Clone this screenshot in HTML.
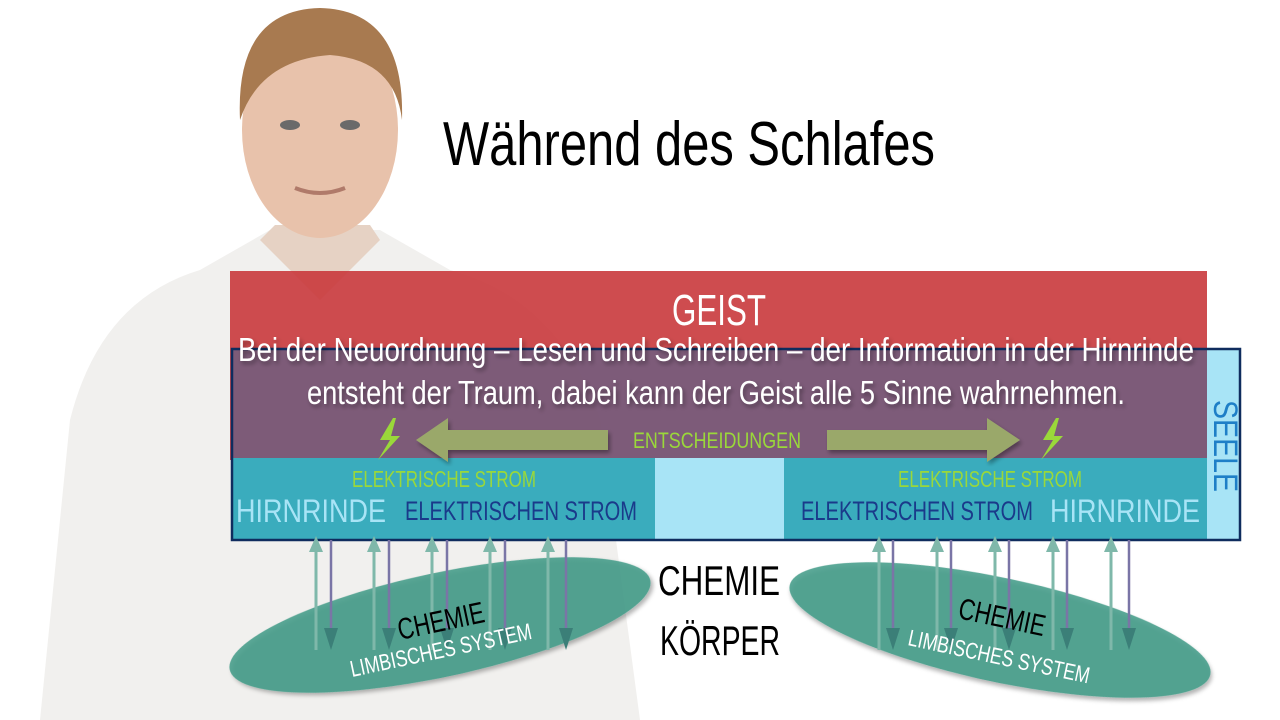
<!DOCTYPE html>
<html><head><meta charset="utf-8"><style>
html,body{margin:0;padding:0;background:#fff;width:1280px;height:720px;overflow:hidden}
svg{display:block}
text{font-family:"Liberation Sans",sans-serif}
</style></head><body>
<svg width="1280" height="720" viewBox="0 0 1280 720">
<defs>
<marker id="up" viewBox="0 0 10 10" refX="5" refY="2" markerWidth="4" markerHeight="5" orient="auto"><path d="M0,10 L5,0 L10,10z" fill="#7fb8aa"/></marker>
<filter id="sh"><feDropShadow dx="2" dy="3" stdDeviation="2" flood-color="#000" flood-opacity="0.35"/></filter>
</defs>
<!-- person approximation -->
<path d="M40,720 L70,420 Q100,300 200,270 L270,230 L380,230 L450,270 Q560,300 600,420 L640,720Z" fill="#f1f0ee"/>
<path d="M260,240 L320,300 L380,240 L370,225 L275,225Z" fill="#e6d2c4"/>
<ellipse cx="320" cy="130" rx="78" ry="108" fill="#e8c2ab"/>
<path d="M240,120 Q235,10 320,8 Q405,10 402,120 Q395,60 330,55 Q260,60 240,120Z" fill="#a87a50"/>
<ellipse cx="290" cy="125" rx="10" ry="5" fill="#6a6a6a"/>
<ellipse cx="350" cy="125" rx="10" ry="5" fill="#6a6a6a"/>
<path d="M295,188 Q320,198 345,188" stroke="#b07a6a" stroke-width="4" fill="none"/>
<!-- title -->
<text x="443" y="165" font-size="62" fill="#000" textLength="492" lengthAdjust="spacingAndGlyphs">Während des Schlafes</text>
<!-- boxes -->
<rect x="230" y="271" width="977" height="189" fill="#c9393c" fill-opacity="0.9"/>
<rect x="232" y="349" width="975" height="109" fill="#6f5e80" fill-opacity="0.85"/>
<rect x="232" y="458" width="423" height="82" fill="#3aacbd"/>
<rect x="784" y="458" width="423" height="82" fill="#3aacbd"/>
<rect x="655" y="458" width="129" height="82" fill="#a8e4f6"/>
<rect x="1207" y="349" width="33" height="191" fill="#a8e4f6"/>
<rect x="232" y="349" width="1008" height="191" fill="none" stroke="#0f2c5e" stroke-width="2.5"/>
<text x="672" y="325" font-size="44" fill="#fff" textLength="94" lengthAdjust="spacingAndGlyphs">GEIST</text>
<g filter="url(#sh)" fill="#fff" font-size="33">
<text x="238" y="361" textLength="956" lengthAdjust="spacingAndGlyphs">Bei der Neuordnung – Lesen und Schreiben – der Information in der Hirnrinde</text>
<text x="307" y="404" textLength="818" lengthAdjust="spacingAndGlyphs">entsteht der Traum, dabei kann der Geist alle 5 Sinne wahrnehmen.</text>
</g>
<text transform="translate(1214,400) rotate(90)" font-size="34" fill="#1e7fc7" textLength="92" lengthAdjust="spacingAndGlyphs">SEELE</text>
<!-- arrows -->
<path d="M608,430 L448,430 L448,418 L416,440 L448,462 L448,450 L608,450Z" fill="#9aa86a" filter="url(#sh)"/>
<path d="M827,430 L987,430 L987,418 L1020,440 L987,462 L987,450 L827,450Z" fill="#9aa86a" filter="url(#sh)"/>
<path d="M393,418 L380,440 L390,440 L378,460 L400,436 L391,436 L396,418Z" fill="#9ad83a"/>
<path d="M1056,418 L1043,440 L1053,440 L1041,460 L1063,436 L1054,436 L1059,418Z" fill="#9ad83a"/>
<text x="633" y="448" font-size="22" fill="#9ad83a" textLength="168" lengthAdjust="spacingAndGlyphs">ENTSCHEIDUNGEN</text>
<g font-size="23" fill="#9ad83a">
<text x="352" y="487" textLength="184" lengthAdjust="spacingAndGlyphs">ELEKTRISCHE STROM</text>
<text x="898" y="487" textLength="184" lengthAdjust="spacingAndGlyphs">ELEKTRISCHE STROM</text>
</g>
<g font-size="32" fill="#a8e4f6">
<text x="236" y="522" textLength="150" lengthAdjust="spacingAndGlyphs">HIRNRINDE</text>
<text x="1050" y="522" textLength="150" lengthAdjust="spacingAndGlyphs">HIRNRINDE</text>
</g>
<g font-size="27" fill="#1a3a8a">
<text x="405" y="520" textLength="232" lengthAdjust="spacingAndGlyphs">ELEKTRISCHEN STROM</text>
<text x="801" y="520" textLength="232" lengthAdjust="spacingAndGlyphs">ELEKTRISCHEN STROM</text>
</g>
<!-- ellipses -->
<ellipse cx="440" cy="625" rx="215" ry="52" transform="rotate(-12 440 625)" fill="#3f9a86" fill-opacity="0.85" filter="url(#sh)"/>
<ellipse cx="1000" cy="630" rx="215" ry="52" transform="rotate(12 1000 630)" fill="#3f9a86" fill-opacity="0.85" filter="url(#sh)"/>
<!-- vertical arrows -->
<g stroke="#7fb8aa" stroke-width="3" fill="#7fb8aa">
<g id="ua">
<line x1="316" y1="650" x2="316" y2="545"/><path d="M309,552 L316,536 L323,552Z" stroke="none"/>
</g>
<use href="#ua" x="58"/><use href="#ua" x="116"/><use href="#ua" x="174"/><use href="#ua" x="232"/>
<use href="#ua" x="563"/><use href="#ua" x="621"/><use href="#ua" x="679"/><use href="#ua" x="737"/><use href="#ua" x="795"/>
</g>
<g stroke="#7a75a6" stroke-width="2.5" fill="#3b7f78">
<g id="da">
<line x1="331" y1="540" x2="331" y2="640"/><path d="M324,628 L331,650 L338,628Z" stroke="none"/>
</g>
<use href="#da" x="58"/><use href="#da" x="116"/><use href="#da" x="174"/><use href="#da" x="235"/>
<use href="#da" x="562"/><use href="#da" x="620"/><use href="#da" x="678"/><use href="#da" x="736"/><use href="#da" x="798"/>
</g>
<text transform="translate(400,640) rotate(-12)" font-size="30" fill="#000" textLength="88" lengthAdjust="spacingAndGlyphs">CHEMIE</text>
<text transform="translate(352,677) rotate(-12)" font-size="23" fill="#fff" textLength="185" lengthAdjust="spacingAndGlyphs">LIMBISCHES SYSTEM</text>
<text transform="translate(957,618) rotate(12)" font-size="30" fill="#000" textLength="88" lengthAdjust="spacingAndGlyphs">CHEMIE</text>
<text transform="translate(907,645) rotate(12)" font-size="23" fill="#fff" textLength="185" lengthAdjust="spacingAndGlyphs">LIMBISCHES SYSTEM</text>
<text x="658" y="595" font-size="42" fill="#000" textLength="122" lengthAdjust="spacingAndGlyphs">CHEMIE</text>
<text x="660" y="655" font-size="42" fill="#000" textLength="120" lengthAdjust="spacingAndGlyphs">KÖRPER</text>
</svg>
</body></html>
